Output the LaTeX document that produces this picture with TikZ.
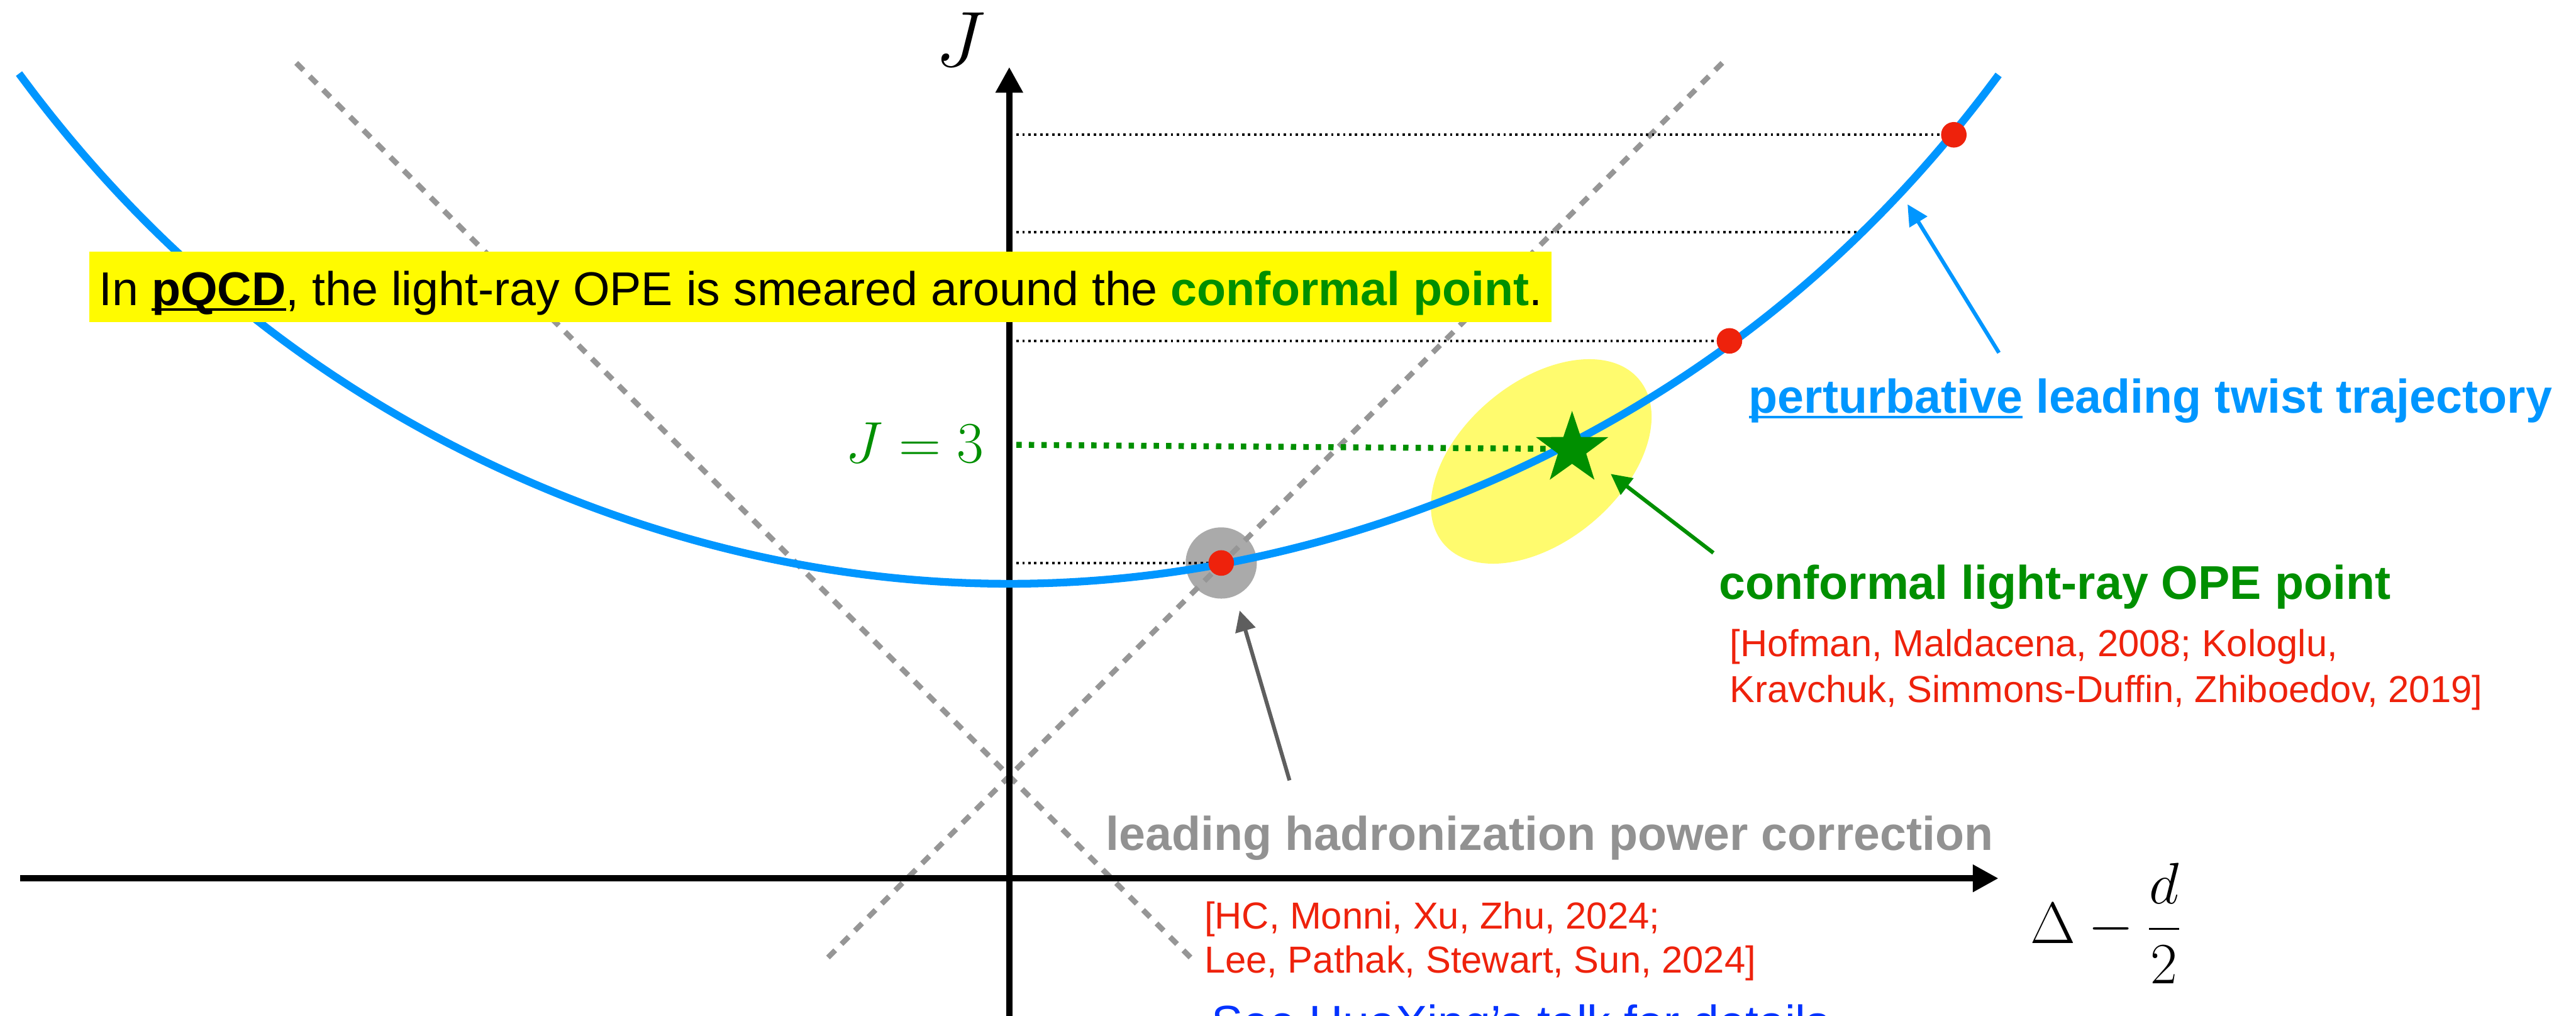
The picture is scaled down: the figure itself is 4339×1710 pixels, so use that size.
\documentclass[tikz,border=0pt]{standalone}
\usepackage{fix-cm}
\usepackage{amsmath}
\usepackage[no-math]{fontspec}
\setmainfont{Liberation Sans}
\usetikzlibrary{arrows.meta}
\definecolor{trajblue}{RGB}{0,150,255}
\definecolor{spinred}{RGB}{238,34,12}
\definecolor{optgreen}{RGB}{0,143,0}
\definecolor{conegray}{RGB}{150,150,150}
\definecolor{halogray}{RGB}{170,170,170}
\definecolor{hadgray}{RGB}{146,146,146}
\definecolor{ptrgray}{RGB}{94,94,94}
\definecolor{hlyellow}{RGB}{255,251,0}
\definecolor{hazeyellow}{RGB}{255,251,110}
\definecolor{seeblue}{RGB}{4,51,255}
\newcommand{\undl}[1]{\setbox0\hbox{#1}\rlap{\rule[-0.12em]{\wd0}{0.055em}}\box0\relax}

\begin{document}
\begin{tikzpicture}[x=0.01cm, y=-0.01cm,
  every node/.style={inner sep=0pt},
  axis/.style={line width=0.1cm, -{Triangle[length=0.43cm,width=0.44cm]}},
  traj/.style={line width=0.13cm, trajblue},
  guide/.style={line width=0.045cm, dash pattern=on 0.04cm off 0.06cm},
  lightcone/.style={line width=0.09cm, conegray, dash pattern=on 0.17cm off 0.15cm},
  pointer/.style={line width=0.065cm, -{Triangle[length=0.35cm,width=0.34cm]}},
  spin/.style={circle, fill=spinred, minimum size=0.43cm},
  bigtxt/.style={font=\fontsize{22.7}{27}\selectfont},
  bigbold/.style={font=\fontsize{22.7}{27}\selectfont\bfseries},
  reftxt/.style={font=\fontsize{18}{22}\selectfont, text=spinred, anchor=base west}]
  \useasboundingbox (0,0) rectangle (4339,1710);
  \clip (0,0) rectangle (4339,1710);

  \coordinate (h1) at (2057,948);
  \coordinate (h2) at (2913,574);
  \coordinate (h3) at (3291,227);
  \coordinate (h4) at (3135,391);
  \coordinate (cstar) at (2648,756);
  \coordinate (smear) at (2596,777);

  \fill[halogray] (h1) circle[radius=60];
  \fill[hazeyellow, rotate around={40:(smear)}] (smear) ellipse[x radius=215, y radius=134];

  \draw[lightcone] (499,106) -- (2015,1622);
  \draw[lightcone] (2901,106) -- (1385,1622);

  \draw[guide] (1712,227) -- (h3);
  \draw[guide] (1712,391) -- (h4);
  \draw[guide] (1712,574) -- (h2);
  \draw[guide] (1712,948) -- (h1);
  \draw[optgreen, line width=0.1cm, dash pattern=on 0.09cm off 0.12cm] (1712,749) -- (cstar);

  \draw[axis] (34,1479) -- (3366,1479);
  \draw[axis] (1700,1720) -- (1700,113);

  \draw[traj] plot[domain=-1.668:1.668, samples=121, smooth] ({1700+1000*\x}, {983-260*\x*\x-6.3*(\x*\x)^3});

  \fill[optgreen, shift={(cstar)}] (-90:64) -- (-54:25) -- (-18:64) -- (18:25) -- (54:64)
    -- (90:25) -- (126:64) -- (162:25) -- (198:64) -- (234:25) -- cycle;

  \node[spin] (s1) at (h1) {};
  \node[spin] (s2) at (h2) {};
  \node[spin] (s3) at (h3) {};

  \node[font=\fontsize{37.6}{44}\selectfont] (jlabel) at (1618,67) {$J$};
  \node[font=\fontsize{28}{34}\selectfont] (xlabel) at (3547,1555) {$\Delta-\dfrac{d}{2}$};
  \node[font=\fontsize{28}{34}\selectfont, text=optgreen] (jthree) at (1541,745) {$J=3$};

  \node[bigtxt, anchor=base west, fill=hlyellow, inner xsep=0.16cm, text height=0.9cm, text depth=0.28cm] (banner) at (150,514)
    {In \undl{\textbf{pQCD}}, the light-ray OPE is smeared around the \textcolor{optgreen}{\textbf{conformal point}}.};

  \node[bigbold, text=trajblue, anchor=base west] (trajlabel) at (2945,695) {\undl{perturbative} leading twist trajectory};
  \node[bigbold, text=optgreen, anchor=base west] (cpoint) at (2895,1009) {conformal light-ray OPE point};
  \node[reftxt] (ref1a) at (2913,1105) {[Hofman, Maldacena, 2008; Kologlu,};
  \node[reftxt] (ref1b) at (2913,1183) {Kravchuk, Simmons-Duffin, Zhiboedov, 2019]};
  \node[bigbold, text=hadgray, anchor=base west] (hadlabel) at (1862,1432) {leading hadronization power correction};
  \node[reftxt] (ref2a) at (2028,1564) {[HC, Monni, Xu, Zhu, 2024;};
  \node[reftxt] (ref2b) at (2028,1638) {Lee, Pathak, Stewart, Sun, 2024]};
  \node[bigtxt, text=seeblue, anchor=base west] (seetalk) at (2040,1749) {See HuaXing's talk for details};

  \coordinate (trajtail) at (3367,594);
  \coordinate (trajtip) at (3213,344);
  \coordinate (cptail) at (2886,931);
  \coordinate (cptip) at (2713,798);
  \coordinate (hadtail) at (2172,1314);
  \coordinate (hadtip) at (2088,1028);
  \draw[pointer, trajblue] (trajtail) -- (trajtip);
  \draw[pointer, optgreen] (cptail) -- (cptip);
  \draw[pointer, ptrgray] (hadtail) -- (hadtip);
\end{tikzpicture}
\end{document}
